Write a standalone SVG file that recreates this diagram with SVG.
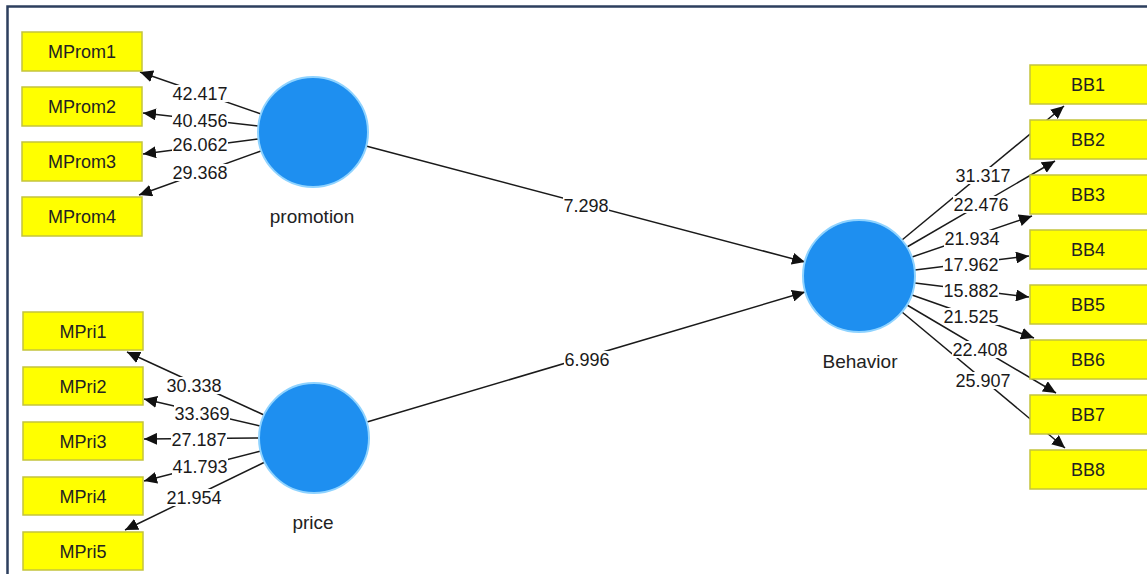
<svg xmlns="http://www.w3.org/2000/svg" width="1147" height="574" viewBox="0 0 1147 574">
<style>
.box{fill:#ffff00;stroke:#c4c43c;stroke-width:1.5}
.bt{font-family:"Liberation Sans",Arial,sans-serif;font-size:18px;fill:#222;text-anchor:middle}
.lv{fill:#1e8ff0;stroke:#8fd3ff;stroke-width:2}
.lt{font-family:"Liberation Sans",Arial,sans-serif;font-size:19px;fill:#222;text-anchor:middle}
.ln{stroke:#1a1a1a;stroke-width:1.5;fill:none;marker-end:url(#ah)}
.lb{fill:#ffffff}
.nt{font-family:"Liberation Sans",Arial,sans-serif;font-size:18px;fill:#1a1a1a;text-anchor:middle}
</style>
<defs>
<marker id="ah" markerUnits="userSpaceOnUse" markerWidth="14" markerHeight="12" refX="13" refY="6" orient="auto">
<path d="M0,0 L13,6 L0,12 Z" fill="#111"/>
</marker>
</defs>
<rect x="0" y="0" width="1147" height="574" fill="#ffffff"/>
<path d="M7.5,574 L7.5,6.5 L1147,6.5" fill="none" stroke="#2d3f5e" stroke-width="2.5"/>

<g id="connectors">
<line class="ln" x1="261" y1="114" x2="140" y2="72"/>
<line class="ln" x1="258" y1="126" x2="143" y2="113"/>
<line class="ln" x1="258" y1="139" x2="143" y2="154"/>
<line class="ln" x1="261" y1="151" x2="139" y2="195"/>
<line class="ln" x1="264" y1="415" x2="127" y2="352"/>
<line class="ln" x1="260" y1="426" x2="144" y2="399"/>
<line class="ln" x1="259" y1="438" x2="144" y2="439"/>
<line class="ln" x1="261" y1="451" x2="144" y2="481"/>
<line class="ln" x1="265" y1="462" x2="125" y2="530"/>
<line class="ln" x1="366" y1="146" x2="805" y2="262"/>
<line class="ln" x1="367" y1="422" x2="805" y2="292"/>
<line class="ln" x1="902" y1="240" x2="1064" y2="106"/>
<line class="ln" x1="907" y1="247" x2="1055" y2="161"/>
<line class="ln" x1="912" y1="257" x2="1032" y2="216"/>
<line class="ln" x1="915" y1="270" x2="1029" y2="256"/>
<line class="ln" x1="915" y1="283" x2="1029" y2="297"/>
<line class="ln" x1="912" y1="295" x2="1034" y2="338"/>
<line class="ln" x1="907" y1="305" x2="1056" y2="393"/>
<line class="ln" x1="902" y1="312" x2="1065" y2="448"/>
<g id="labels">
<rect class="lb" x="172" y="85" width="56" height="17"/><text class="nt" x="200" y="99.5">42.417</text>
<rect class="lb" x="172" y="112" width="56" height="17"/><text class="nt" x="200" y="126.5">40.456</text>
<rect class="lb" x="172" y="136" width="56" height="17"/><text class="nt" x="200" y="150.5">26.062</text>
<rect class="lb" x="172" y="164" width="56" height="17"/><text class="nt" x="200" y="178.5">29.368</text>
<rect class="lb" x="166" y="377" width="56" height="17"/><text class="nt" x="194" y="391.5">30.338</text>
<rect class="lb" x="174" y="405" width="56" height="17"/><text class="nt" x="202" y="419.5">33.369</text>
<rect class="lb" x="171" y="431" width="56" height="17"/><text class="nt" x="199" y="445.5">27.187</text>
<rect class="lb" x="172" y="458" width="56" height="17"/><text class="nt" x="200" y="472.5">41.793</text>
<rect class="lb" x="166" y="489" width="56" height="17"/><text class="nt" x="194" y="503.5">21.954</text>
<rect class="lb" x="563" y="197" width="46" height="17"/><text class="nt" x="586" y="211.5">7.298</text>
<rect class="lb" x="564" y="351" width="46" height="17"/><text class="nt" x="587" y="365.5">6.996</text>
<rect class="lb" x="955" y="167" width="56" height="17"/><text class="nt" x="983" y="181.5">31.317</text>
<rect class="lb" x="953" y="196" width="56" height="17"/><text class="nt" x="981" y="210.5">22.476</text>
<rect class="lb" x="944" y="230" width="56" height="17"/><text class="nt" x="972" y="244.5">21.934</text>
<rect class="lb" x="943" y="256" width="56" height="17"/><text class="nt" x="971" y="270.5">17.962</text>
<rect class="lb" x="943" y="282" width="56" height="17"/><text class="nt" x="971" y="296.5">15.882</text>
<rect class="lb" x="943" y="308" width="56" height="17"/><text class="nt" x="971" y="322.5">21.525</text>
<rect class="lb" x="952" y="341" width="56" height="17"/><text class="nt" x="980" y="355.5">22.408</text>
<rect class="lb" x="955" y="372" width="56" height="17"/><text class="nt" x="983" y="386.5">25.907</text>
</g>
</g>

<g id="promotion"><circle class="lv" cx="313" cy="132" r="55"/><text class="lt" x="312" y="223">promotion</text></g>
<g id="price"><circle class="lv" cx="314" cy="438" r="55"/><text class="lt" x="313" y="529">price</text></g>
<g id="behavior"><circle class="lv" cx="859" cy="276" r="56"/><text class="lt" x="860" y="368">Behavior</text></g>

<g id="MProm1"><rect class="box" x="22" y="32" width="120" height="39"/><text class="bt" x="82" y="58">MProm1</text></g>
<g id="MProm2"><rect class="box" x="22" y="87" width="120" height="39"/><text class="bt" x="82" y="113">MProm2</text></g>
<g id="MProm3"><rect class="box" x="22" y="142" width="120" height="39"/><text class="bt" x="82" y="168">MProm3</text></g>
<g id="MProm4"><rect class="box" x="22" y="197" width="120" height="39"/><text class="bt" x="82" y="223">MProm4</text></g>

<g id="MPri1"><rect class="box" x="23" y="312" width="120" height="38"/><text class="bt" x="83" y="337.5">MPri1</text></g>
<g id="MPri2"><rect class="box" x="23" y="367" width="120" height="38"/><text class="bt" x="83" y="392.5">MPri2</text></g>
<g id="MPri3"><rect class="box" x="23" y="422" width="120" height="38"/><text class="bt" x="83" y="447.5">MPri3</text></g>
<g id="MPri4"><rect class="box" x="23" y="477" width="120" height="38"/><text class="bt" x="83" y="502.5">MPri4</text></g>
<g id="MPri5"><rect class="box" x="23" y="532" width="120" height="38"/><text class="bt" x="83" y="557.5">MPri5</text></g>

<g id="BB1"><rect class="box" x="1030" y="65" width="120" height="39"/><text class="bt" x="1088" y="91">BB1</text></g>
<g id="BB2"><rect class="box" x="1030" y="120" width="120" height="39"/><text class="bt" x="1088" y="146">BB2</text></g>
<g id="BB3"><rect class="box" x="1030" y="175" width="120" height="39"/><text class="bt" x="1088" y="201">BB3</text></g>
<g id="BB4"><rect class="box" x="1030" y="230" width="120" height="39"/><text class="bt" x="1088" y="256">BB4</text></g>
<g id="BB5"><rect class="box" x="1030" y="285" width="120" height="39"/><text class="bt" x="1088" y="311">BB5</text></g>
<g id="BB6"><rect class="box" x="1030" y="340" width="120" height="39"/><text class="bt" x="1088" y="366">BB6</text></g>
<g id="BB7"><rect class="box" x="1030" y="395" width="120" height="39"/><text class="bt" x="1088" y="421">BB7</text></g>
<g id="BB8"><rect class="box" x="1030" y="450" width="120" height="39"/><text class="bt" x="1088" y="476">BB8</text></g>
</svg>
